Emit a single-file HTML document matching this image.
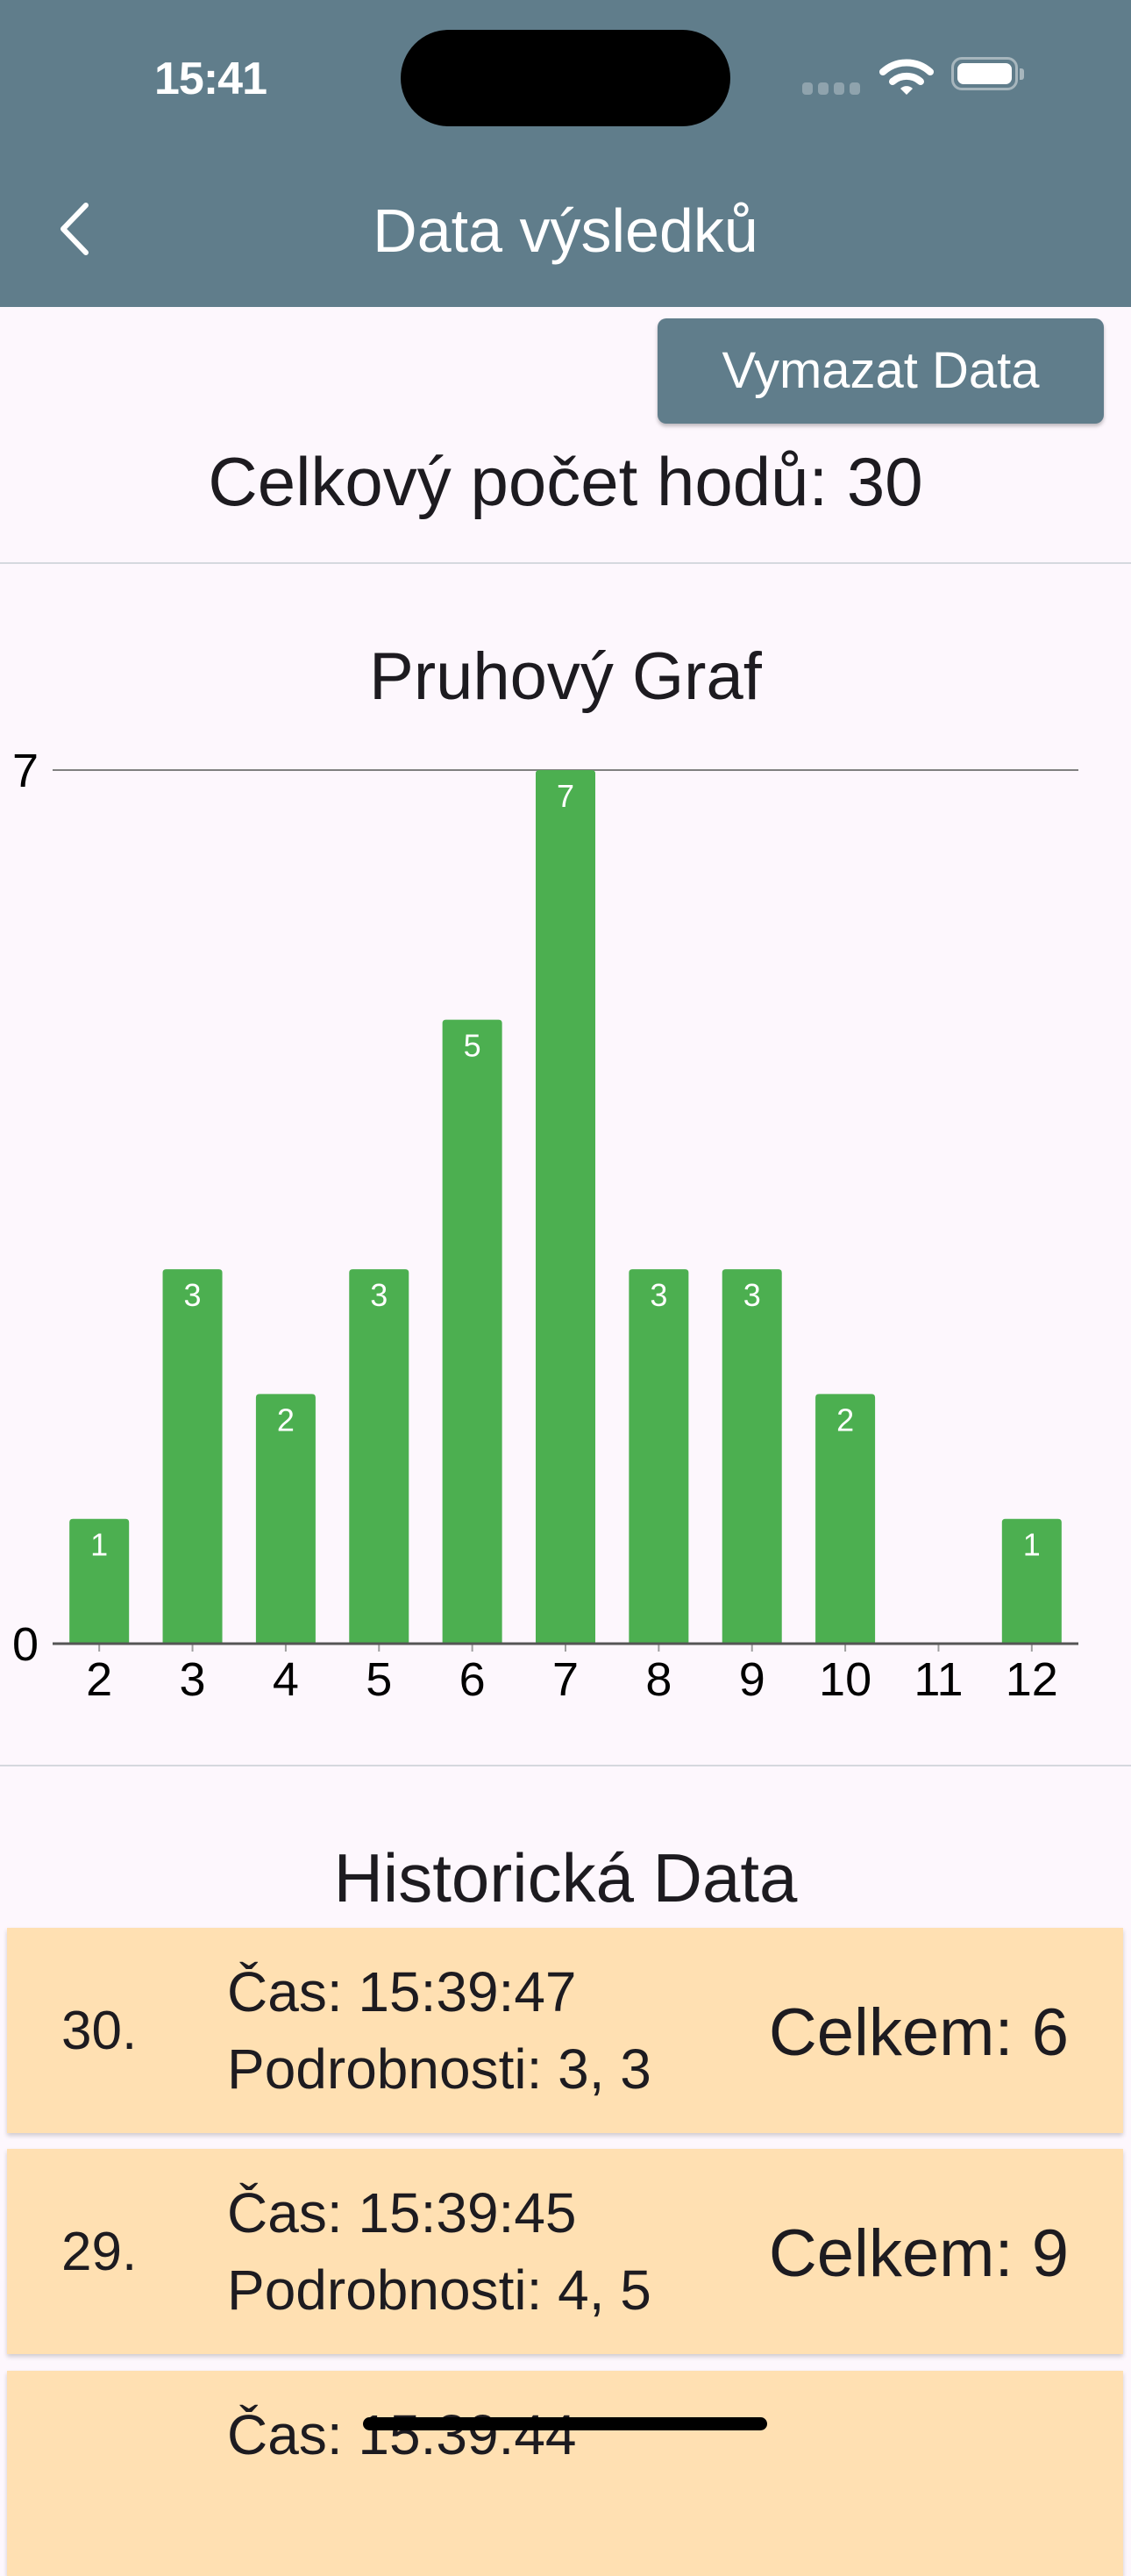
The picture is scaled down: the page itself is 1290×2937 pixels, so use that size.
<!DOCTYPE html>
<html><head><meta charset="utf-8">
<style>
html,body{margin:0;padding:0;}
body{width:1290px;height:2796px;position:relative;overflow:hidden;background:#fdf7fd;font-family:"Liberation Sans",sans-serif;color:#1d1b20;}
.abs{position:absolute;}
.t{line-height:1;}
.card{position:absolute;left:8px;width:1273px;height:234px;background:#ffe0b2;box-shadow:0 3px 5px rgba(0,0,0,0.18);}
.card .num{position:absolute;left:62px;font-size:62px;line-height:1;}
.card .l1,.card .l2{position:absolute;left:251px;font-size:64px;line-height:1;}
.card .tot{position:absolute;right:62px;font-size:76px;line-height:1;}
</style></head>
<body>
<div class="abs" style="left:0;top:0;width:1290px;height:350px;background:#607d8b;"></div>
<div class="abs" style="left:176px;top:60px;font-size:52px;font-weight:bold;color:#fff;letter-spacing:-1px;">15:41</div>
<div class="abs" style="left:457px;top:34px;width:376px;height:110px;border-radius:55px;background:#000;"></div>
<div class="abs" style="left:915px;top:94px;width:66px;height:14px;">
 <span style="position:absolute;left:0;top:0;width:12px;height:14px;border-radius:4px;background:#8fa3ad"></span>
 <span style="position:absolute;left:18px;top:0;width:12px;height:14px;border-radius:4px;background:#8fa3ad"></span>
 <span style="position:absolute;left:36px;top:0;width:12px;height:14px;border-radius:4px;background:#8fa3ad"></span>
 <span style="position:absolute;left:54px;top:0;width:12px;height:14px;border-radius:4px;background:#8fa3ad"></span>
</div>
<svg class="abs" style="left:1003px;top:64px" width="62" height="46" viewBox="0 0 62 46">
 <path d="M4 18 A40 40 0 0 1 58 18" stroke="#fff" stroke-width="8" fill="none" stroke-linecap="round"/>
 <path d="M15 29 A24 24 0 0 1 47 29" stroke="#fff" stroke-width="8" fill="none" stroke-linecap="round"/>
 <path d="M24 37 L31 44 L38 37 A10 10 0 0 0 24 37Z" fill="#fff"/>
</svg>
<div class="abs" style="left:1085px;top:65px;width:76px;height:38px;border:3px solid #a7b6bd;border-radius:12px;box-sizing:border-box;">
 <div style="position:absolute;left:4px;top:4px;right:4px;bottom:4px;background:#fff;border-radius:7px;"></div>
</div>
<div class="abs" style="left:1163px;top:78px;width:5px;height:13px;background:#a7b6bd;border-radius:0 3px 3px 0;"></div>
<svg class="abs" style="left:60px;top:228px" width="50" height="66"><path d="M38 6 L12 33 L38 60" stroke="#fff" stroke-width="6" fill="none" stroke-linecap="round" stroke-linejoin="round"/></svg>
<div class="abs t" style="left:0;width:1290px;top:228px;text-align:center;font-size:70px;color:#fff;">Data výsledků</div>
<div class="abs" style="left:750px;top:363px;width:509px;height:120px;background:#607d8b;border-radius:10px;box-shadow:0 3px 4px rgba(0,0,0,0.25);color:#fff;font-size:58px;line-height:120px;text-align:center;">Vymazat Data</div>
<div class="abs t" style="left:0;width:1290px;top:510px;text-align:center;font-size:78px;">Celkový počet hodů: 30</div>
<div class="abs" style="left:0;top:641px;width:1290px;height:2px;background:#d5d8de;"></div>
<div class="abs t" style="left:0;width:1290px;top:734px;text-align:center;font-size:76px;">Pruhový Graf</div>
<svg id="chart" class="abs" style="left:0;top:840px" width="1290" height="1120"></svg>
<div class="abs" style="left:0;top:2012px;width:1290px;height:2px;background:#d5d8de;"></div>
<div class="abs t" style="left:0;width:1290px;top:2102px;text-align:center;font-size:78px;">Historická Data</div>

<div class="card" style="top:2198px;">
 <div class="num" style="top:87px">30.</div>
 <div class="l1" style="top:41px">Čas: 15:39:47</div>
 <div class="l2" style="top:129px">Podrobnosti: 3, 3</div>
 <div class="tot" style="top:82px">Celkem: 6</div>
</div>
<div class="card" style="top:2450px;">
 <div class="num" style="top:87px">29.</div>
 <div class="l1" style="top:41px">Čas: 15:39:45</div>
 <div class="l2" style="top:129px">Podrobnosti: 4, 5</div>
 <div class="tot" style="top:82px">Celkem: 9</div>
</div>
<div class="card" style="top:2703px;">
 <div class="l1" style="top:41px">Čas: 15:39:44</div>
</div>
<div class="abs" style="left:414px;top:2756px;width:461px;height:15px;border-radius:8px;background:#000;"></div>

<script>
const categories = ["2","3","4","5","6","7","8","9","10","11","12"];
const counts = [1,3,2,3,5,7,3,3,2,0,1];
const yTicks = [0,7];

const svg = document.getElementById('chart');
const NS = 'http://www.w3.org/2000/svg';
const top0 = 38, base = 1034, left = 60, right = 1230;
const yMax = Math.max(...yTicks, ...counts);
function y(v){ return base - (base - top0) * v / yMax; }
const step = (right - left) / categories.length;
function x(i){ return left + step * (i + 0.5); }
const bw = 68;

function mk(tag, attrs){ const e = document.createElementNS(NS, tag); for (const k in attrs) e.setAttribute(k, attrs[k]); svg.appendChild(e); return e; }

const grid = mk('line', {x1:left, x2:right, y1:y(yMax), y2:y(yMax), stroke:'#808080', 'stroke-width':2});



yTicks.forEach(t => {
  const tx = mk('text', {x:14, y:y(t)+19, 'font-size':54, fill:'#000', 'font-family':'Liberation Sans, sans-serif'});
  tx.textContent = t;
  
  
});

counts.forEach((v, i) => {
  const cx = x(i);
  if (v > 0) {
    const b = mk('path', {d:`M${cx-bw/2},${base} V${y(v)+4} Q${cx-bw/2},${y(v)} ${cx-bw/2+4},${y(v)} H${cx+bw/2-4} Q${cx+bw/2},${y(v)} ${cx+bw/2},${y(v)+4} V${base} Z`, fill:'#4caf50'});
    
    
    const lb = mk('text', {x:cx, y:y(v)+42, 'font-size':36, fill:'#fff', 'text-anchor':'middle', 'font-family':'Liberation Sans, sans-serif'});
    lb.textContent = v;
    
    
  }
  const tk = mk('line', {x1:cx, x2:cx, y1:base, y2:base+9, stroke:'#9e9e9e', 'stroke-width':2});
  
  
  const tl = mk('text', {x:cx, y:base+59, 'font-size':54, fill:'#000', 'text-anchor':'middle', 'font-family':'Liberation Sans, sans-serif'});
  tl.textContent = categories[i];
  
  
});

const axis = mk('line', {x1:left, x2:right, y1:base, y2:base, stroke:'#555', 'stroke-width':3});


</script>
</body></html>
